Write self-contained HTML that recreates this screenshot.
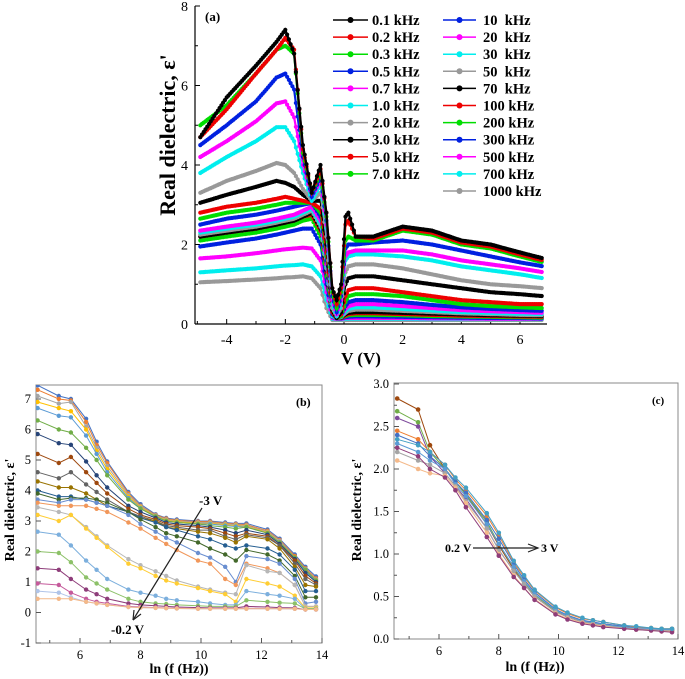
<!DOCTYPE html>
<html><head><meta charset="utf-8"><style>
html,body{margin:0;padding:0;background:#fff}
svg{display:block}
text{font-family:"Liberation Serif",serif}
</style></head><body>
<svg id="fig" width="685" height="679" viewBox="0 0 685 679" xmlns="http://www.w3.org/2000/svg">
<g id="pa"></g>
<g id="pb"></g>
<g id="pc"></g>
</svg>
<script>
// ---------- Panel (a) data ----------
const voltsA = [-4.9,-4,-3,-2.3,-2,-1.7,-1.4,-1.1,-0.8,-0.6,-0.4,-0.25,-0.1,0.05,0.15,0.4,1,2,3,4,5,6,6.8];
const freqLabelsA = ["0.1 kHz","0.2 kHz","0.3 kHz","0.5 kHz","0.7 kHz","1.0 kHz","2.0 kHz","3.0 kHz","5.0 kHz","7.0 kHz","10  kHz","20  kHz","30  kHz","50  kHz","70  kHz","100 kHz","200 kHz","300 kHz","500 kHz","700 kHz","1000 kHz"];
const colorsA = ["#000","#e00","#0d0","#0020e0","#f0f","#0ee","#999","#000","#e00","#0d0","#0020e0","#f0f","#0ee","#999","#000","#e00","#0d0","#0020e0","#f0f","#0ee","#999"];
const s01 = [4.7,5.7,6.5,7.1,7.4,6.8,4.5,3.3,4.0,2.8,0.9,0.6,1.0,2.7,2.8,2.2,2.2,2.45,2.35,2.1,2.0,1.8,1.65];
const s02 = [4.7,5.4,6.3,6.9,7.2,6.9,4.4,3.3,3.9,2.8,0.9,0.5,0.9,2.5,2.6,2.2,2.15,2.4,2.3,2.05,1.95,1.75,1.6];
const s03 = [5.0,5.5,6.3,6.9,7.0,6.8,4.3,3.3,3.8,2.7,0.8,0.4,0.8,2.1,2.2,2.1,2.1,2.35,2.25,2.0,1.9,1.7,1.55];
const s05 = [4.5,5.0,5.6,6.2,6.3,5.9,4.2,3.2,3.7,2.6,0.7,0.3,0.7,1.9,2.0,2.0,2.05,2.1,2.0,1.85,1.7,1.55,1.45];
const s07 = [4.2,4.6,5.1,5.55,5.6,5.2,4.0,3.2,3.6,2.5,0.6,0.25,0.6,1.7,1.8,1.85,1.85,1.85,1.75,1.6,1.5,1.4,1.3];
const s10 = [3.8,4.2,4.6,4.95,4.95,4.6,3.8,3.1,3.5,2.4,0.5,0.2,0.5,1.6,1.7,1.75,1.75,1.7,1.6,1.45,1.35,1.25,1.15];
const s20 = [3.3,3.6,3.85,4.05,4.0,3.8,3.4,3.1,3.3,2.2,0.4,0.2,0.4,1.3,1.45,1.5,1.5,1.4,1.25,1.1,1.0,0.95,0.9];
const s30 = [3.05,3.25,3.45,3.6,3.55,3.45,3.25,3.1,3.1,2.0,0.35,0.15,0.3,1.0,1.15,1.2,1.2,1.1,1.0,0.9,0.8,0.75,0.7];
const s50 = [2.8,2.95,3.05,3.15,3.2,3.15,3.1,3.05,2.9,1.8,0.3,0.15,0.25,0.7,0.85,0.9,0.9,0.8,0.7,0.6,0.55,0.5,0.5];
const s70 = [2.65,2.8,2.9,3.0,3.05,3.05,3.05,3.05,2.8,1.7,0.3,0.15,0.2,0.55,0.7,0.75,0.75,0.7,0.6,0.5,0.45,0.42,0.4];
const s10k = [2.5,2.65,2.75,2.85,2.9,2.95,3.0,3.05,2.7,1.6,0.25,0.15,0.2,0.45,0.55,0.6,0.6,0.55,0.48,0.42,0.38,0.35,0.33];
const s20k = [2.35,2.45,2.55,2.65,2.7,2.75,2.85,2.95,2.6,1.5,0.25,0.15,0.2,0.38,0.45,0.5,0.5,0.45,0.4,0.35,0.32,0.3,0.28];
const s30k = [2.3,2.4,2.5,2.6,2.65,2.7,2.8,2.9,2.5,1.45,0.2,0.15,0.18,0.32,0.38,0.42,0.42,0.38,0.34,0.3,0.28,0.26,0.25];
const s50k = [2.25,2.35,2.45,2.55,2.6,2.65,2.75,2.85,2.45,1.4,0.2,0.15,0.17,0.28,0.33,0.36,0.36,0.33,0.3,0.27,0.25,0.23,0.22];
const s70k = [2.2,2.3,2.4,2.5,2.55,2.6,2.7,2.8,2.4,1.35,0.2,0.15,0.16,0.25,0.28,0.3,0.3,0.28,0.26,0.24,0.22,0.21,0.2];
const s100k = [2.2,2.3,2.4,2.5,2.55,2.6,2.7,2.75,2.35,1.3,0.2,0.15,0.15,0.22,0.25,0.27,0.27,0.25,0.23,0.21,0.2,0.19,0.18];
const s200k = [2.1,2.2,2.3,2.4,2.45,2.5,2.6,2.65,2.2,1.2,0.2,0.15,0.15,0.2,0.22,0.23,0.23,0.22,0.2,0.19,0.18,0.17,0.16];
const s300k = [1.95,2.05,2.15,2.25,2.3,2.35,2.4,2.4,2.0,1.0,0.18,0.14,0.14,0.17,0.18,0.19,0.19,0.18,0.17,0.16,0.15,0.15,0.14];
const s500k = [1.65,1.7,1.78,1.85,1.88,1.9,1.92,1.9,1.6,0.8,0.15,0.13,0.13,0.15,0.15,0.15,0.15,0.15,0.14,0.14,0.13,0.13,0.13];
const s700k = [1.3,1.35,1.4,1.45,1.47,1.48,1.5,1.45,1.2,0.6,0.13,0.12,0.12,0.13,0.13,0.13,0.13,0.13,0.12,0.12,0.12,0.12,0.12];
const s1000k = [1.05,1.08,1.12,1.15,1.17,1.18,1.2,1.15,0.9,0.4,0.1,0.1,0.1,0.1,0.1,0.1,0.1,0.1,0.1,0.1,0.1,0.1,0.1];
const seriesA = [s01,s02,s03,s05,s07,s10,s20,s30,s50,s70,s10k,s20k,s30k,s50k,s70k,s100k,s200k,s300k,s500k,s700k,s1000k];
const xTicksA = [-4,-2,0,2,4,6];
const yTicksA = [0,2,4,6,8];

// ---------- Panel (b) data ----------
const lnF = [4.6,5.3,5.7,6.2,6.55,6.9,7.6,8.0,8.5,8.85,9.2,9.9,10.3,10.8,11.15,11.5,12.2,12.6,13.1,13.45,13.8];
const b1 = [7.45,7.1,7.0,6.35,5.6,4.95,3.95,3.55,3.22,3.1,3.05,3.0,3.0,2.95,2.92,2.92,2.72,2.42,1.9,1.5,1.18];
const b2 = [7.3,7.0,6.95,6.25,5.5,4.9,3.9,3.5,3.2,3.08,3.02,2.98,2.98,2.92,2.9,2.88,2.68,2.38,1.85,1.45,1.12];
const b3 = [7.1,6.85,6.9,6.1,5.4,4.8,3.85,3.48,3.18,3.05,3.0,2.95,2.95,2.9,2.88,2.85,2.65,2.35,1.8,1.42,1.08];
const b4 = [6.9,6.7,6.6,6.0,5.3,4.7,3.8,3.45,3.15,3.02,2.98,2.92,2.92,2.88,2.85,2.82,2.62,2.3,1.78,1.38,1.05];
const b5 = [6.7,6.45,6.4,5.8,5.2,4.6,3.75,3.42,3.12,3.0,2.95,2.9,2.9,2.85,2.82,2.8,2.6,2.28,1.75,1.35,1.02];
const b6 = [6.3,6.0,5.9,5.4,5.0,4.5,3.7,3.4,3.15,3.0,2.95,2.9,2.85,2.8,2.75,2.8,2.6,2.3,1.8,1.4,1.05];
const b7 = [5.85,5.55,5.5,4.95,4.5,4.1,3.5,3.3,3.1,2.95,2.9,2.85,2.8,2.7,2.6,2.7,2.55,2.25,1.75,1.3,1.0];
const b8 = [5.2,4.9,5.1,4.6,4.25,3.9,3.4,3.2,3.05,2.9,2.85,2.8,2.75,2.6,2.5,2.6,2.5,2.2,1.7,1.2,0.95];
const b9 = [4.6,4.4,4.6,4.2,3.95,3.7,3.3,3.15,3.0,2.85,2.8,2.7,2.7,2.5,2.4,2.55,2.45,2.2,1.6,1.1,0.9];
const b10 = [4.3,4.1,4.1,3.9,3.7,3.5,3.3,3.1,3.0,2.8,2.75,2.65,2.6,2.45,2.3,2.5,2.4,2.1,1.5,0.9,0.85];
const b11 = [4.0,3.8,3.8,3.7,3.6,3.5,3.3,3.1,2.95,2.8,2.7,2.5,2.4,2.2,2.1,2.2,2.1,1.9,1.4,0.7,0.7];
const b12 = [3.9,3.7,3.75,3.75,3.7,3.6,3.3,3.05,2.8,2.6,2.5,2.3,2.1,1.9,1.7,2.05,1.9,1.7,1.2,0.5,0.5];
const b13 = [3.7,3.6,3.7,3.7,3.6,3.5,3.2,2.9,2.65,2.45,2.3,1.95,1.8,1.5,1.0,1.85,1.75,1.6,1.1,0.3,0.35];
const b14 = [3.6,3.5,3.5,3.5,3.4,3.3,2.95,2.75,2.45,2.25,2.05,1.7,1.6,1.1,0.9,1.6,1.45,1.3,0.9,0.2,0.2];
const b15 = [3.45,3.3,3.2,2.8,2.5,2.2,1.75,1.55,1.35,1.2,1.05,0.85,0.75,0.65,0.6,1.55,1.35,1.3,0.9,0.2,0.2];
const b16 = [3.2,3.0,3.2,2.75,2.45,2.15,1.6,1.45,1.2,1.05,0.95,0.8,0.7,0.6,0.35,1.1,0.95,0.85,0.55,0.15,0.15];
const b17 = [2.65,2.55,2.2,1.7,1.4,1.1,0.75,0.65,0.55,0.45,0.4,0.35,0.3,0.25,0.25,0.7,0.6,0.55,0.45,0.12,0.12];
const b18 = [2.0,1.95,1.65,1.15,0.95,0.75,0.45,0.35,0.3,0.28,0.25,0.22,0.2,0.2,0.2,0.4,0.35,0.32,0.3,0.12,0.12];
const b19 = [1.45,1.4,1.1,0.75,0.6,0.45,0.3,0.25,0.22,0.2,0.18,0.16,0.15,0.15,0.15,0.2,0.18,0.16,0.15,0.1,0.1];
const b20 = [0.95,0.9,0.65,0.45,0.35,0.3,0.2,0.18,0.16,0.15,0.14,0.13,0.13,0.13,0.13,0.14,0.13,0.13,0.12,0.1,0.1];
const b21 = [0.7,0.65,0.5,0.35,0.3,0.25,0.18,0.16,0.15,0.14,0.13,0.12,0.12,0.12,0.12,0.12,0.12,0.12,0.12,0.1,0.1];
const b22 = [0.45,0.45,0.45,0.35,0.3,0.25,0.18,0.16,0.15,0.14,0.13,0.12,0.12,0.12,0.12,0.12,0.12,0.12,0.12,0.1,0.1];
const seriesB = [b1,b2,b3,b4,b5,b6,b7,b8,b9,b10,b11,b12,b13,b14,b15,b16,b17,b18,b19,b20,b21,b22];
const xTicksB = [6,8,10,12,14];
const yTicksB = [-1,0,1,2,3,4,5,6,7];

// ---------- Panel (c) data ----------
const c1 = [2.83,2.7,2.28,2.0,1.85,1.7,1.35,1.1,0.82,0.65,0.5,0.32,0.26,0.2,0.18,0.16,0.13,0.12,0.11,0.1,0.1];
const c2 = [2.68,2.55,2.2,2.0,1.85,1.7,1.38,1.12,0.84,0.67,0.52,0.33,0.27,0.21,0.19,0.17,0.14,0.12,0.11,0.1,0.1];
const c3 = [2.6,2.5,2.15,1.95,1.8,1.65,1.3,1.05,0.8,0.65,0.5,0.32,0.26,0.2,0.18,0.16,0.13,0.12,0.11,0.1,0.1];
const c4 = [2.45,2.35,2.2,2.05,1.88,1.75,1.45,1.22,0.9,0.73,0.57,0.37,0.3,0.24,0.22,0.2,0.16,0.14,0.13,0.12,0.12];
const c5 = [2.4,2.3,2.15,2.0,1.85,1.72,1.4,1.18,0.88,0.7,0.55,0.35,0.28,0.22,0.2,0.18,0.15,0.13,0.12,0.11,0.11];
const c6 = [2.3,2.2,2.1,2.0,1.82,1.68,1.35,1.12,0.85,0.68,0.53,0.34,0.27,0.21,0.19,0.17,0.14,0.13,0.12,0.11,0.11];
const c7 = [2.2,2.1,2.05,1.95,1.8,1.62,1.3,1.05,0.8,0.65,0.5,0.32,0.26,0.2,0.18,0.16,0.13,0.12,0.11,0.1,0.1];
const c8 = [2.1,2.0,1.95,1.92,1.78,1.6,1.25,1.0,0.75,0.6,0.47,0.3,0.24,0.19,0.17,0.15,0.12,0.11,0.1,0.09,0.09];
const c9 = [2.25,2.15,2.0,1.9,1.75,1.55,1.2,0.98,0.73,0.6,0.46,0.29,0.23,0.18,0.16,0.14,0.12,0.11,0.1,0.09,0.08];
const c10 = [2.35,2.28,2.2,2.05,1.9,1.78,1.48,1.25,0.92,0.75,0.58,0.38,0.31,0.25,0.22,0.2,0.16,0.15,0.13,0.12,0.12];
const seriesC = [c1,c2,c3,c4,c5,c6,c7,c8,c9,c10];
const xTicksC = [6,8,10,12,14];
const yTicksC = [0,0.5,1.0,1.5,2.0,2.5,3.0];
const excelColors = ["#4472c4","#ed7d31","#a5a5a5","#ffc000","#5b9bd5","#70ad47","#264478","#9e480e","#636363","#997300","#255e91","#43682b","#698ed0","#f1975a","#b7b7b7","#ffcd33","#7cafdd","#8cc168","#8e3d7a","#c55a9b","#b0c4e8","#f4b98a"];
const colorsC = ["#9e480e","#70ad47","#7e4a9c","#ed7d31","#4472c4","#5b9bd5","#a5a5a5","#f4b98a","#8e3d7a","#43a0c4"];

const NS="http://www.w3.org/2000/svg";
function mk(parent,tag,attrs,txt){const e=document.createElementNS(NS,tag);for(const k in attrs)e.setAttribute(k,attrs[k]);if(txt!==undefined)e.textContent=txt;parent.appendChild(e);return e;}
function lin(d0,d1,r0,r1){return v=>r0+(v-d0)*(r1-r0)/(d1-d0);}

// ===== Panel A =====
(function(){
const g=document.getElementById('pa');
const X=lin(0,6,344,520), Y=lin(0,8,324,6);
const xMin=195,xMax=547;
let ax=mk(g,'line',{x1:xMin,y1:6,x2:xMin,y2:324,stroke:'#000','stroke-width':1.2});


ax=mk(g,'line',{x1:xMin,y1:324,x2:xMax,y2:324,stroke:'#000','stroke-width':1.2});


for(let v=-5;v<=7;v++){const x=X(v);if(x<xMin||x>xMax)continue;mk(g,'line',{x1:x,y1:324,x2:x,y2:xTicksA.includes(v)?319:321,stroke:'#000'});}
xTicksA.forEach(v=>{const t=mk(g,'text',{x:X(v),y:344,'font-size':14,'text-anchor':'middle'},String(v));

});
for(let v=0;v<=8;v++){const y=Y(v);mk(g,'line',{x1:xMin,y1:y,x2:v%2==0?xMin+5:xMin+3,y2:y,stroke:'#000'});}
yTicksA.forEach(v=>{const t=mk(g,'text',{x:188,y:Y(v)+5,'font-size':14,'text-anchor':'end'},String(v));

});
for(let i=seriesA.length-1;i>=0;i--){
 const s=seriesA[i];const c=colorsA[i];
 const sg=mk(g,'g',{});
 
 
 const pts=voltsA.map((v,k)=>X(v).toFixed(1)+','+Y(s[k]).toFixed(1)).join(' ');
 mk(sg,'polyline',{points:pts,fill:'none',stroke:c,'stroke-width':2.2});
 for(let k=0;k<voltsA.length-1;k++){
  const n=Math.max(1,Math.round((voltsA[k+1]-voltsA[k])/0.06));
  for(let j=0;j<n;j++){const f=j/n;const v=voltsA[k]+f*(voltsA[k+1]-voltsA[k]);const e=s[k]+f*(s[k+1]-s[k]);
   mk(sg,'circle',{cx:X(v).toFixed(1),cy:Y(e).toFixed(1),r:2.1,fill:c});}
 }
}
const leg=mk(g,'g',{});


freqLabelsA.forEach((lab,i)=>{
 const col=i<10?0:1;const row=i<10?i:i-10;
 const y=20+row*17.1;const lx=col?443:333, lw=col?33:35, tx=col?483:372;
 const e=mk(leg,'g',{});
 
 
 mk(e,'rect',{x:lx-2,y:y-9,width:lw+4,height:17,fill:'#fff'});
 mk(e,'line',{x1:lx,y1:y,x2:lx+lw,y2:y,stroke:colorsA[i],'stroke-width':1.5});
 mk(e,'circle',{cx:lx+lw/2,cy:y,r:3,fill:colorsA[i]});
 const tb=mk(e,'text',{x:tx,y:y+5,'font-size':14.5,'font-weight':'bold'},lab);
 tb.setAttribute('style','white-space:pre');
});
let t=mk(g,'text',{x:205,y:21,'font-size':13,'font-weight':'bold'},'(a)');


t=mk(g,'text',{x:0,y:0,'font-size':22,'font-weight':'bold','text-anchor':'middle',transform:'translate(175,135) rotate(-90)'},"Real dielectric, ε'");


t=mk(g,'text',{x:361,y:364,'font-size':17,'font-weight':'bold','text-anchor':'middle'},'V (V)');


})();

// ===== Panel B =====
(function(){
const g=document.getElementById('pb');
const X=lin(6,14,80,322), Y=lin(-1,7,643,399);
let fr=mk(g,'rect',{x:36,y:385,width:286,height:258,fill:'none',stroke:'#888','stroke-width':1});


xTicksB.forEach(v=>{mk(g,'line',{x1:X(v),y1:643,x2:X(v),y2:638,stroke:'#555'});
 const t=mk(g,'text',{x:X(v),y:659,'font-size':12.5,'text-anchor':'middle'},String(v));
 
 });
for(let v=5;v<14;v+=2)mk(g,'line',{x1:X(v),y1:643,x2:X(v),y2:640,stroke:'#555'});
yTicksB.forEach(v=>{mk(g,'line',{x1:36,y1:Y(v),x2:41,y2:Y(v),stroke:'#555'});
 const t=mk(g,'text',{x:31,y:Y(v)+4,'font-size':12.5,'text-anchor':'end'},String(v));
 
 });
const clip=mk(g,'clipPath',{id:'clipb'});mk(clip,'rect',{x:36,y:385,width:286,height:258});
const sgAll=mk(g,'g',{'clip-path':'url(#clipb)'});
seriesB.forEach((s,i)=>{
 const c=excelColors[i%excelColors.length];
 const sg=mk(sgAll,'g',{});
 
 
 mk(sg,'polyline',{points:lnF.map((x,k)=>X(x).toFixed(1)+','+Y(s[k]).toFixed(1)).join(' '),fill:'none',stroke:c,'stroke-width':1});
 lnF.forEach((x,k)=>mk(sg,'circle',{cx:X(x).toFixed(1),cy:Y(s[k]).toFixed(1),r:2.2,fill:c}));
});
let a=mk(g,'line',{x1:202,y1:508,x2:133,y2:620,stroke:'#222','stroke-width':1.2});


mk(g,'path',{d:'M133,620 L134,610 M133,620 L141,614',stroke:'#222','stroke-width':1.2,fill:'none'});
let t=mk(g,'text',{x:199,y:505,'font-size':13,'font-weight':'bold'},'-3 V');


t=mk(g,'text',{x:111,y:634,'font-size':13,'font-weight':'bold'},'-0.2 V');


t=mk(g,'text',{x:296,y:406,'font-size':12,'font-weight':'bold'},'(b)');


t=mk(g,'text',{x:0,y:0,'font-size':14,'font-weight':'bold','text-anchor':'middle',transform:'translate(14,510) rotate(-90)'},"Real dielectric, ε'");


t=mk(g,'text',{x:179,y:673,'font-size':14,'font-weight':'bold','text-anchor':'middle'},'ln (f (Hz))');


})();

// ===== Panel C =====
(function(){
const g=document.getElementById('pc');
const X=lin(6,14,439,678), Y=lin(0,3,639,384);
let fr=mk(g,'rect',{x:394,y:383,width:284,height:256,fill:'none',stroke:'#888','stroke-width':1});


xTicksC.forEach(v=>{mk(g,'line',{x1:X(v),y1:639,x2:X(v),y2:634,stroke:'#555'});
 const t=mk(g,'text',{x:X(v),y:655,'font-size':12.5,'text-anchor':'middle'},String(v));
 
 });
for(let v=5;v<14;v+=2)mk(g,'line',{x1:X(v),y1:639,x2:X(v),y2:636,stroke:'#555'});
yTicksC.forEach(v=>{mk(g,'line',{x1:394,y1:Y(v),x2:399,y2:Y(v),stroke:'#555'});
 const t=mk(g,'text',{x:389,y:Y(v)+4,'font-size':12.5,'text-anchor':'end'},v.toFixed(1));
 
 });
for(let v=0.25;v<3;v+=0.5)mk(g,'line',{x1:394,y1:Y(v),x2:397,y2:Y(v),stroke:'#555'});
seriesC.forEach((s,i)=>{
 const c=colorsC[i%colorsC.length];
 const sg=mk(g,'g',{});
 
 
 mk(sg,'polyline',{points:lnF.map((x,k)=>X(x).toFixed(1)+','+Y(s[k]).toFixed(1)).join(' '),fill:'none',stroke:c,'stroke-width':1});
 lnF.forEach((x,k)=>mk(sg,'circle',{cx:X(x).toFixed(1),cy:Y(s[k]).toFixed(1),r:2.3,fill:c}));
});
let a=mk(g,'line',{x1:473,y1:548,x2:538,y2:548,stroke:'#222','stroke-width':1.2});


mk(g,'path',{d:'M528,544 L538,548 L528,552',stroke:'#222','stroke-width':1.2,fill:'none'});
let t=mk(g,'text',{x:445,y:552,'font-size':12,'font-weight':'bold'},'0.2 V');


t=mk(g,'text',{x:541,y:552,'font-size':12,'font-weight':'bold'},'3 V');


t=mk(g,'text',{x:652,y:404,'font-size':11,'font-weight':'bold'},'(c)');


t=mk(g,'text',{x:0,y:0,'font-size':14,'font-weight':'bold','text-anchor':'middle',transform:'translate(361,510) rotate(-90)'},"Real dielectric, ε'");


t=mk(g,'text',{x:535,y:671,'font-size':14,'font-weight':'bold','text-anchor':'middle'},'ln (f (Hz))');


})();
</script>
</body></html>
